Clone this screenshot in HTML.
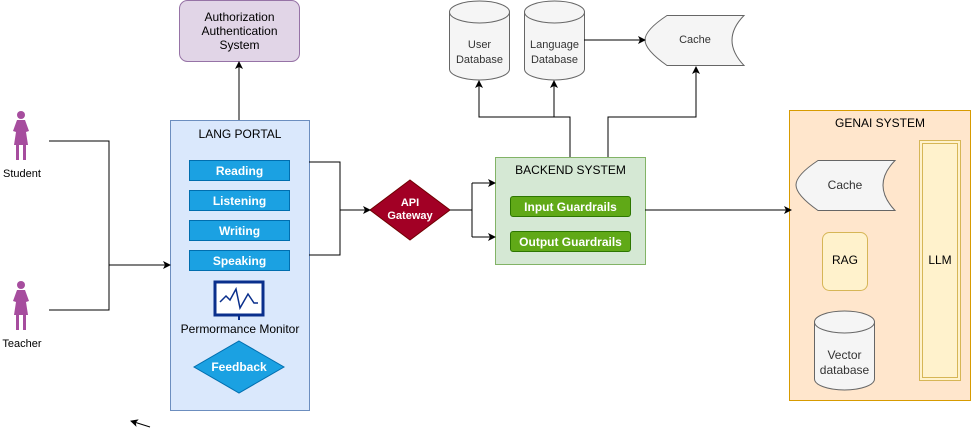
<!DOCTYPE html>
<html><head><style>
body{margin:0;width:971px;height:434px;background:#fff;font-family:"Liberation Sans",sans-serif;overflow:hidden;position:relative}
.a{position:absolute;box-sizing:border-box;display:flex;align-items:center;justify-content:center;text-align:center}
.btn{background:#1ba1e2;border:1px solid #006eaf;color:#fff;font-weight:bold;font-size:12px}
.g{background:#60a917;border:1px solid #2d7600;color:#fff;font-weight:bold;font-size:12px;border-radius:3px}
</style></head><body>
<svg width="971" height="434" style="position:absolute;left:0;top:0">
<defs><marker id="ar" markerWidth="8" markerHeight="8" refX="7" refY="4" orient="auto" markerUnits="userSpaceOnUse"><path d="M0,0 L8,4 L0,8 L2,4z" fill="#000"/></marker></defs>
<!-- boxes -->
<rect x="179.5" y="0.5" width="120" height="61" rx="8" fill="#e1d5e7" stroke="#9673a6"/>
<rect x="170.5" y="120.5" width="139" height="290" fill="#dae8fc" stroke="#6c8ebf"/>
<rect x="495.5" y="157.5" width="150" height="107" fill="#d5e8d4" stroke="#82b366"/>
<rect x="789.5" y="110.5" width="181" height="290" fill="#ffe6cc" stroke="#d79b00"/>
<rect x="919.5" y="140.5" width="41" height="240" fill="#fff2cc" stroke="#d6b656"/>
<rect x="922.5" y="143.5" width="35" height="234" fill="none" stroke="#d6b656"/>
<rect x="822.5" y="232.5" width="45" height="58" rx="7" fill="#fff2cc" stroke="#d6b656"/>
<!-- cylinders -->
<g fill="#f5f5f5" stroke="#666">
<path d="M449.5,12 A30,11 0 0 1 509.5,12 V69 A30,11 0 0 1 449.5,69 Z"/><path d="M449.5,12 A30,11 0 0 0 509.5,12" fill="none"/>
<path d="M524.5,12 A30,11 0 0 1 584.5,12 V69 A30,11 0 0 1 524.5,69 Z"/><path d="M524.5,12 A30,11 0 0 0 584.5,12" fill="none"/>
<path d="M814.5,322 A30,11 0 0 1 874.5,322 V379 A30,11 0 0 1 814.5,379 Z"/><path d="M814.5,322 A30,11 0 0 0 874.5,322" fill="none"/>
<path d="M667,15.5 H744 Q720,40 744,65.5 H667 Q645,50 645,40 Q645,30 667,15.5Z"/>
<path d="M818,160.5 H895 Q871,185 895,210.5 H818 Q796,195 796,185 Q796,175 818,160.5Z"/>
</g>
<!-- diamonds -->
<polygon points="410,180 450,210 410,240 370,210" fill="#a20025" stroke="#6f0000"/>
<polygon points="239,341 284,367 239,393 194,367" fill="#1ba1e2" stroke="#006eaf"/>
<!-- monitor -->
<rect x="215" y="282" width="48" height="33" fill="#fff" stroke="#0a2f8c" stroke-width="3"/>
<polyline points="220,302 226,296 230,300 236,289 240,308 248,294 254,303 258,303" fill="none" stroke="#0a2f8c" stroke-width="1.5"/>
<line x1="239" y1="315" x2="239" y2="320" stroke="#0a2f8c" stroke-width="2"/>
<!-- persons -->
<g fill="#a64d9e">
<circle cx="21" cy="115" r="4"/><path d="M17,120 H25 L29,131 L26,132 L28,145 H14 L16,132 L13,131Z"/><rect x="16" y="145" width="3" height="15"/><rect x="23" y="145" width="3" height="15"/>
<circle cx="21" cy="285" r="4"/><path d="M17,290 H25 L29,301 L26,302 L28,315 H14 L16,302 L13,301Z"/><rect x="16" y="315" width="3" height="15"/><rect x="23" y="315" width="3" height="15"/>
</g>
<!-- connectors -->
<g fill="none" stroke="#000" stroke-width="1">
<polyline points="49,141 109,141 109,310 49,310"/>
<line x1="109" y1="265" x2="170" y2="265" marker-end="url(#ar)"/>
<line x1="239" y1="120" x2="239" y2="62" marker-end="url(#ar)"/>
<polyline points="309,162 340,162 340,255 309,255"/>
<line x1="340" y1="210" x2="370" y2="210" marker-end="url(#ar)"/>
<polyline points="450,210 472,210"/>
<polyline points="472,183 472,237"/>
<line x1="472" y1="183" x2="495" y2="183" marker-end="url(#ar)"/>
<line x1="472" y1="237" x2="495" y2="237" marker-end="url(#ar)"/>
<polyline points="570,157 570,117 479,117 479,81" marker-end="url(#ar)"/>
<line x1="554" y1="117" x2="554" y2="81" marker-end="url(#ar)"/>
<polyline points="608,157 608,117 696,117 696,67" marker-end="url(#ar)"/>
<line x1="584" y1="40" x2="645" y2="40" marker-end="url(#ar)"/>
<line x1="645" y1="210" x2="791" y2="210" marker-end="url(#ar)"/>
<line x1="150" y1="427" x2="131" y2="421" marker-end="url(#ar)"/>
</g>
</svg>
<div class="a" style="left:179px;top:4px;width:121px;height:54px;font-size:12px;line-height:14px">Authorization<br>Authentication<br>System</div>
<div class="a" style="left:170px;top:124px;width:140px;height:20px;font-size:12px">LANG PORTAL</div>
<div class="a btn" style="left:189px;top:160px;width:101px;height:21px">Reading</div>
<div class="a btn" style="left:189px;top:190px;width:101px;height:21px">Listening</div>
<div class="a btn" style="left:189px;top:220px;width:101px;height:21px">Writing</div>
<div class="a btn" style="left:189px;top:250px;width:101px;height:21px">Speaking</div>
<div class="a" style="left:170px;top:320px;width:140px;height:18px;font-size:12px">Permormance Monitor</div>
<div class="a" style="left:194px;top:358px;width:90px;height:18px;font-size:12px;color:#fff;font-weight:bold">Feedback</div>
<div class="a" style="left:0;top:166px;width:44px;height:16px;font-size:11px">Student</div>
<div class="a" style="left:0;top:336px;width:44px;height:16px;font-size:11px">Teacher</div>
<div class="a" style="left:370px;top:194px;width:80px;height:32px;font-size:11px;line-height:13px;color:#fff;font-weight:bold">API<br>Gateway</div>
<div class="a" style="left:495px;top:162px;width:151px;height:16px;font-size:12px">BACKEND SYSTEM</div>
<div class="a g" style="left:510px;top:196px;width:121px;height:21px">Input Guardrails</div>
<div class="a g" style="left:510px;top:231px;width:121px;height:21px">Output Guardrails</div>
<div class="a" style="left:449px;top:38px;width:61px;height:30px;font-size:11px;line-height:15px;color:#333">User<br>Database</div>
<div class="a" style="left:524px;top:38px;width:61px;height:30px;font-size:11px;line-height:15px;color:#333">Language<br>Database</div>
<div class="a" style="left:660px;top:32px;width:70px;height:16px;font-size:11px;color:#333">Cache</div>
<div class="a" style="left:789px;top:115px;width:182px;height:16px;font-size:12px">GENAI SYSTEM</div>
<div class="a" style="left:810px;top:177px;width:70px;height:16px;font-size:12px;color:#333">Cache</div>
<div class="a" style="left:822px;top:252px;width:46px;height:16px;font-size:12px">RAG</div>
<div class="a" style="left:919px;top:252px;width:42px;height:16px;font-size:12px">LLM</div>
<div class="a" style="left:814px;top:347px;width:61px;height:32px;font-size:12px;line-height:15px;color:#333">Vector<br>database</div>
</body></html>
